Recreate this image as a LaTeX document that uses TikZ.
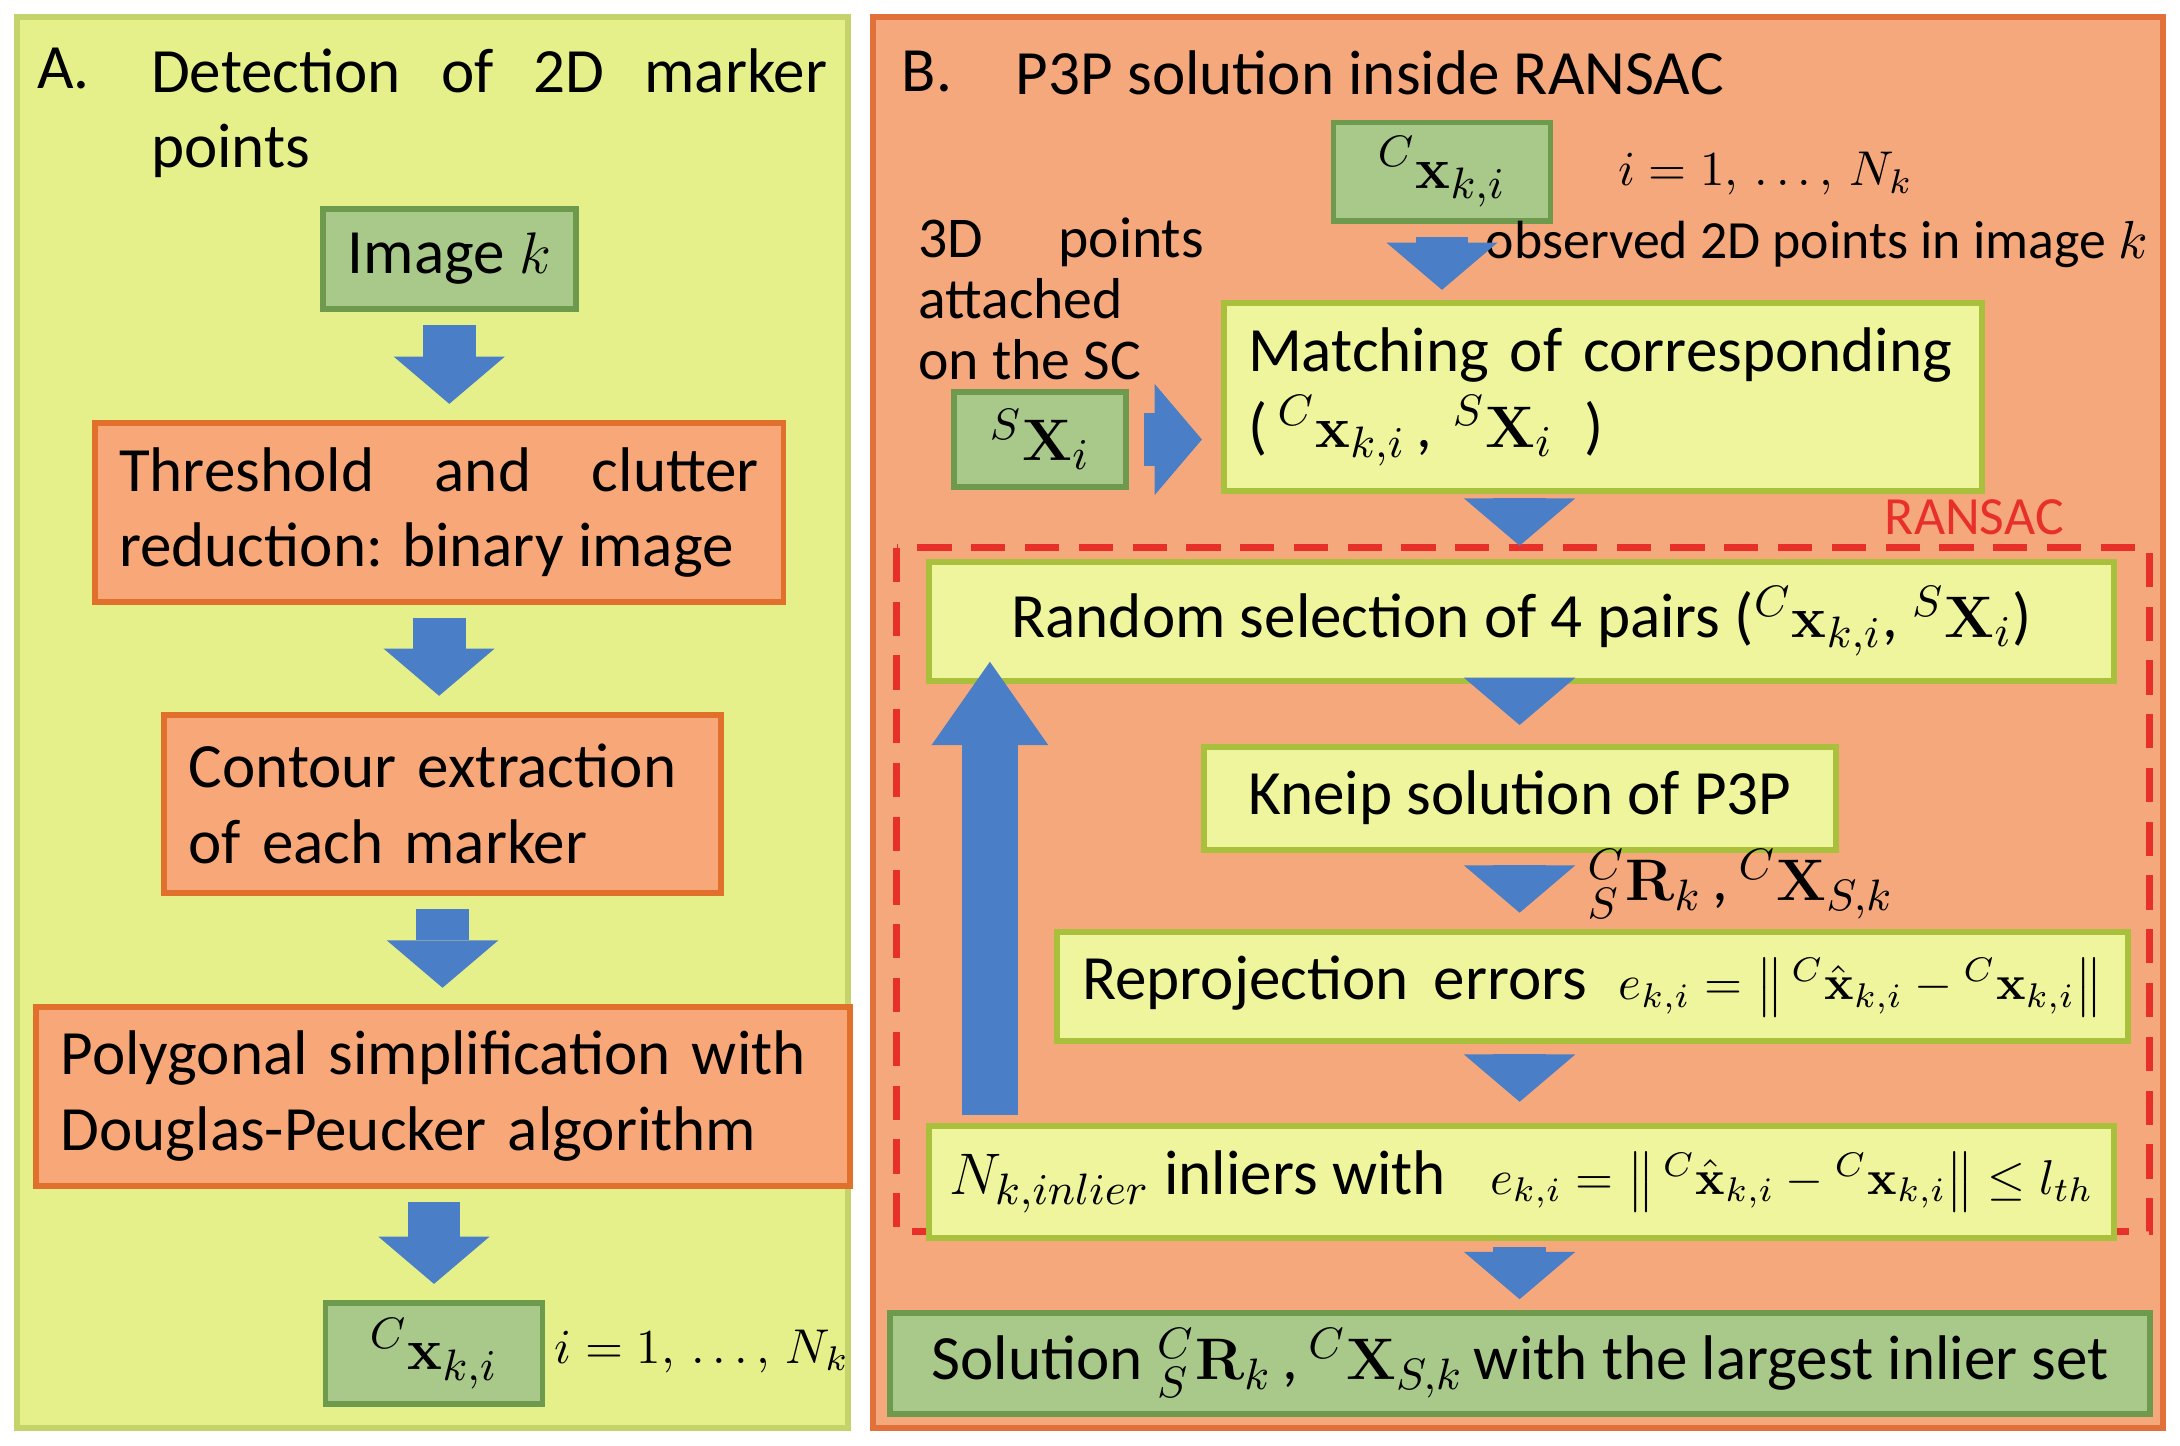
\documentclass[tikz,border=0pt]{standalone}
\usepackage{amsmath}
\usepackage[no-math]{fontspec}
\setmainfont{Carlito}
\usetikzlibrary{arrows.meta}
\definecolor{panA}{HTML}{E6F08A}
\definecolor{panAb}{HTML}{C4D46A}
\definecolor{panB}{HTML}{F5A87C}
\definecolor{panBb}{HTML}{E2703A}
\definecolor{grn}{HTML}{A8C98A}
\definecolor{grnb}{HTML}{6E9A4E}
\definecolor{org}{HTML}{F8A878}
\definecolor{orgb}{HTML}{E0702C}
\definecolor{yel}{HTML}{EEF59C}
\definecolor{yelb}{HTML}{A8C03C}
\definecolor{blu}{HTML}{4A7EC6}
\definecolor{rd}{HTML}{E8302A}
\hyphenpenalty=10000 \exhyphenpenalty=10000
\newcommand{\sm}[1]{{\fontsize{10}{13}\selectfont #1}}
\begin{document}
\begin{tikzpicture}[x=0.01cm,y=-0.01cm,
  font=\fontsize{12.9}{15.5}\selectfont,
  g/.style={draw=grnb,fill=grn,line width=1.2pt,anchor=north west,inner sep=2pt,align=center},
  o/.style={draw=orgb,fill=org,line width=1.2pt,anchor=north west,inner sep=5pt},
  yb/.style={draw=yelb,fill=yel,line width=1.2pt,anchor=north west,inner sep=5pt},
  blk/.style={draw=blu,-{Triangle[length=3.4mm,width=8mm,line width=0pt]},line width=3.8mm,shorten <=1pt,shorten >=1pt},
  lab/.style={inner sep=0pt},
  sml/.style={inner sep=0pt,font=\fontsize{10.4}{12}\selectfont}]
\useasboundingbox (0,0) rectangle (1568,1040);
% panels
\draw[panAb,fill=panA,line width=1.2pt] (12,12) rectangle (610,1027);
\draw[panBb,fill=panB,line width=1.2pt] (628,12) rectangle (1556,1027);
% panel A
\node[lab,anchor=north west] (tAl) at (26,34) {A.};
\node[lab,anchor=north west,text width=4.86cm,align=justify] (tA) at (108,34) {Detection of 2D marker points};
\node[g,minimum width=1.82cm,minimum height=0.72cm] (img) at (230,148) {Image $k$};
\node[o,minimum width=4.86cm,minimum height=1.28cm,text width=4.6cm,align=justify] (thr) at (66,302) {Threshold and clutter reduction: binary image};
\node[o,minimum width=3.86cm,minimum height=1.28cm,text width=3.65cm,align=left] (con) at (116,512) {Contour extraction\\ of each marker};
\node[o,minimum width=5.72cm,minimum height=1.28cm,text width=5.5cm,align=left] (pol) at (24,722) {Polygonal simplification with Douglas-Peucker algorithm};
\node[g,minimum width=1.56cm,minimum height=0.73cm] (cx1) at (232,935) {$^{C}\mathbf{x}_{k,i}$};
\node[sml] (n1) at (505,972) {$i=1,\,\ldots,\,N_k$};
\draw[blk] (img.south) ++(0,6) coordinate (a1) -- ([yshift=0.08cm]a1|-thr.north);
\draw[blk] ([yshift=-0.06cm]thr.south) -- ([yshift=0.08cm]thr.south|-con.north);
\draw[blk] ([yshift=-0.06cm]con.south) -- ([yshift=0.08cm]con.south|-pol.north);
\draw[blk] ([yshift=-0.06cm]pol.south-|cx1.north) -- ([yshift=0.08cm]cx1.north);
% panel B
\node[lab,anchor=north west] (tBl) at (648,36) {B.};
\node[lab,anchor=north west] (tB) at (730,36) {P3P solution inside RANSAC};
\node[g,minimum width=1.56cm,minimum height=0.71cm] (cx2) at (957,86) {$^{C}\mathbf{x}_{k,i}$};
\node[sml] (n2) at (1270,125) {$i=1,\,\ldots,\,N_k$};
\node[sml,anchor=west,font=\fontsize{11}{12}\selectfont] (obs) at (1068,176) {observed 2D points in image $k$};
\node[lab,anchor=north west,align=left,font=\fontsize{11.8}{12.5}\selectfont] (p3d) at (660,156) {3D\hspace{1.3em}points\\ attached\\ on the SC};
\node[g,minimum width=1.24cm,minimum height=0.68cm] (sx) at (684,280) {$^{S}\mathbf{X}_i$};
\node[yb,minimum width=5.4cm,minimum height=1.26cm,text width=5.1cm,align=left] (mat) at (878,216) {Matching of corresponding\\ (\,$^{C}\mathbf{x}_{k,i}$\,, $^{S}\mathbf{X}_i$\, )};
\node[lab,text=rd,font=\fontsize{11}{12}\selectfont] (rl) at (1420,372) {RANSAC};
\draw[rd,line width=1.5pt,dash pattern=on 7pt off 4pt] (645,394) rectangle (1546,886);
\node[yb,minimum width=8.52cm,minimum height=0.68cm] (rnd) at (666,402) {Random selection of 4 pairs ($^{C}\mathbf{x}_{k,i}$, $^{S}\mathbf{X}_i$)};
\node[yb,minimum width=4.54cm,minimum height=0.68cm] (kn) at (864,535) {Kneip solution of P3P};
\node[lab] (rx) at (1252,636) {${}^{C}_{S}\mathbf{R}_k$\,,\,${}^{C}\mathbf{X}_{S,k}$};
\node[yb,minimum width=7.7cm,minimum height=0.72cm,inner xsep=3pt] (rep) at (758,668) {Reprojection\hspace{0.4em}errors\hspace{0.5em}\sm{$e_{k,i}=\left\|\,{}^{C}\hat{\mathbf{x}}_{k,i}-{}^{C}\mathbf{x}_{k,i}\right\|$}};
\node[yb,minimum width=8.52cm,minimum height=0.72cm,inner xsep=3pt] (inl) at (666,808) {$N_{k,inlier}$ inliers with\hspace{0.7em}\sm{$e_{k,i}=\left\|\,{}^{C}\hat{\mathbf{x}}_{k,i}-{}^{C}\mathbf{x}_{k,i}\right\|\leq l_{th}$}};
\node[g,minimum width=9.06cm,minimum height=0.73cm] (sol) at (638,942) {Solution ${}^{C}_{S}\mathbf{R}_k$\,,\,${}^{C}\mathbf{X}_{S,k}$\,with the largest inlier set};
\draw[blk] (cx2.south) ++(0,6) coordinate (b1) -- ([yshift=0.04cm]b1|-mat.north);
\draw[blk] ([xshift=0.07cm]sx.east) -- ([xshift=-0.1cm]mat.west|-sx.east);
\coordinate (ax) at (1093,0);
\draw[blk] ([yshift=-0.03cm]ax|-mat.south) -- ([yshift=0.06cm]ax|-rnd.north);
\draw[blk] ([yshift=-0.08cm]ax|-rnd.south) -- ([yshift=0.1cm]ax|-kn.north);
\draw[blk] ([yshift=-0.07cm]ax|-kn.south) -- ([yshift=0.08cm]ax|-rep.north);
\draw[blk] ([yshift=-0.07cm]ax|-rep.south) -- ([yshift=0.12cm]ax|-inl.north);
\draw[blk] ([yshift=-0.08cm]ax|-inl.south) -- ([yshift=0.04cm]ax|-sol.north);
\coordinate (u1) at (712,802);
\coordinate (u2) at (712,476);
\draw[blu,-{Triangle[length=6mm,width=8.4mm,line width=0pt]},line width=4mm] (u1) -- (u2);
\end{tikzpicture}
\end{document}
